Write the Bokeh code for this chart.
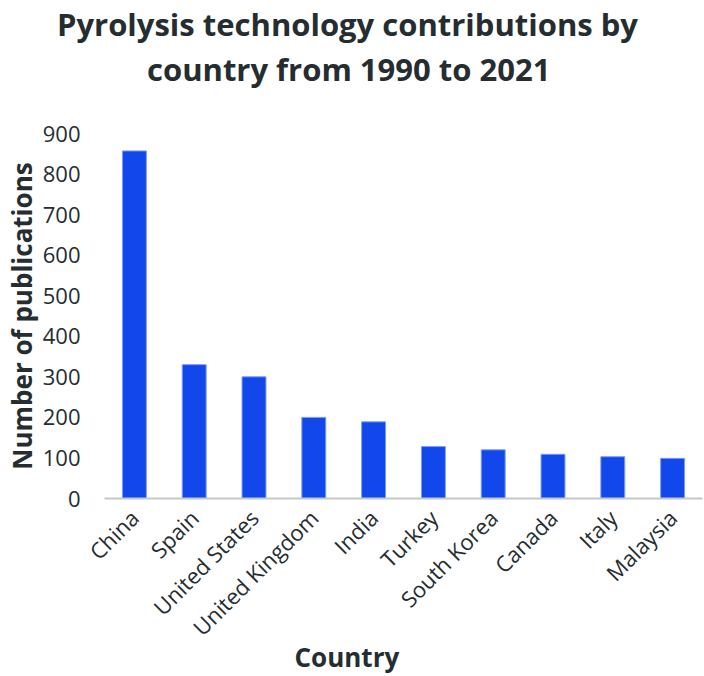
from math import pi
from bokeh.plotting import figure
from bokeh.models import Range1d, FactorRange, Title
from bokeh.embed import file_html
from bokeh.resources import INLINE

countries = ["China", "Spain", "United States", "United Kingdom", "India",
             "Turkey", "South Korea", "Canada", "Italy", "Malaysia"]
publications = [857, 330, 300, 200, 189, 128, 120, 109, 103, 99]
y_ticks = [0, 100, 200, 300, 400, 500, 600, 700, 800, 900]
title_lines = ["Pyrolysis technology contributions by", "country from 1990 to 2021"]
x_label = "Country"
y_label = "Number of publications"

FONT = "Open Sans"
TXT = "#252d31"

p = figure(width=704, height=676, output_backend="svg", toolbar_location=None,
           x_range=FactorRange(factors=countries), y_range=Range1d(0, 900),
           title=None, min_border_left=102, min_border_right=2,
           min_border_top=133, min_border_bottom=178)

p.vbar(x=countries, top=publications, width=0.4, fill_color="#1248EB",
       line_color="#7c9cf7", line_width=1)

xa = p.below[0]
ya = p.left[0]

t2 = Title(text=title_lines[1], align="left", offset=42.5, standoff=88,
           vertical_align="bottom", text_font=FONT, text_font_size="31px",
           text_font_style="bold", text_color=TXT)
t1 = Title(text=title_lines[0], align="left", offset=-47.5, standoff=-86,
           vertical_align="bottom", text_font=FONT, text_font_size="31px",
           text_font_style="bold", text_color=TXT)
p.add_layout(t2, "above")
p.add_layout(t1, "above")

tx = Title(text=x_label, align="left", offset=190, standoff=-34,
           vertical_align="top", text_font=FONT, text_font_size="26px",
           text_font_style="bold", text_color=TXT)
p.add_layout(tx, "below")

p.xgrid.grid_line_color = None
p.ygrid.grid_line_color = None
p.outline_line_color = None

xa.axis_line_color = "#c3c8c8"
xa.axis_line_width = 2
xa.major_tick_line_color = None
xa.minor_tick_line_color = None
xa.major_tick_out = 0
xa.major_label_orientation = pi / 4
xa.major_label_standoff = 15
xa.major_label_text_font = FONT
xa.major_label_text_font_size = "22px"
xa.major_label_text_color = TXT

ya.ticker = y_ticks
ya.axis_line_color = None
ya.major_tick_line_color = None
ya.minor_tick_line_color = None
ya.major_tick_out = 0
ya.major_label_standoff = 24
ya.major_label_text_font = FONT
ya.major_label_text_font_size = "22px"
ya.major_label_text_color = TXT
ya.axis_label = y_label
ya.axis_label_text_font = FONT
ya.axis_label_text_font_size = "26px"
ya.axis_label_text_font_style = "bold"
ya.axis_label_text_color = TXT
ya.axis_label_standoff = 0

open("out.html", "w").write(file_html(p, INLINE))
